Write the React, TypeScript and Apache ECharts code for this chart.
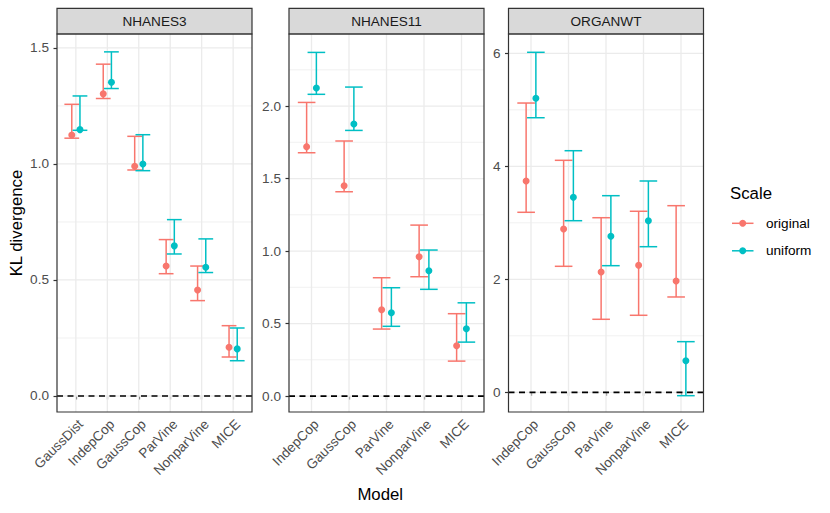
import React, { useEffect, useRef } from "react";
import * as echarts from "echarts";

// ---------- DATA ----------
const panelNames = ["NHANES3", "NHANES11", "ORGANWT"];
const scaleLabels = ["original", "uniform"];
const scaleColors = ["#F8766D", "#00BFC4"];

const nhanes3Models = ["GaussDist", "IndepCop", "GaussCop", "ParVine", "NonparVine", "MICE"];
const nhanes3OrigMean = [1.125, 1.302, 0.99, 0.56, 0.457, 0.21];
const nhanes3OrigLow = [1.111, 1.282, 0.974, 0.527, 0.411, 0.168];
const nhanes3OrigHigh = [1.257, 1.43, 1.119, 0.674, 0.56, 0.303];
const nhanes3UnifMean = [1.148, 1.352, 1.0, 0.647, 0.555, 0.203];
const nhanes3UnifLow = [1.145, 1.325, 0.971, 0.612, 0.532, 0.152];
const nhanes3UnifHigh = [1.293, 1.483, 1.126, 0.76, 0.677, 0.293];

const nhanes11Models = ["IndepCop", "GaussCop", "ParVine", "NonparVine", "MICE"];
const nhanes11OrigMean = [1.72, 1.45, 0.595, 0.961, 0.347];
const nhanes11OrigLow = [1.678, 1.409, 0.462, 0.823, 0.241];
const nhanes11OrigHigh = [2.025, 1.759, 0.816, 1.179, 0.568];
const nhanes11UnifMean = [2.124, 1.876, 0.575, 0.864, 0.464];
const nhanes11UnifLow = [2.081, 1.832, 0.481, 0.736, 0.372];
const nhanes11UnifHigh = [2.37, 2.131, 0.747, 1.007, 0.643];

const organwtModels = ["IndepCop", "GaussCop", "ParVine", "NonparVine", "MICE"];
const organwtOrigMean = [3.74, 2.89, 2.129, 2.248, 1.97];
const organwtOrigLow = [3.186, 2.23, 1.292, 1.363, 1.687];
const organwtOrigHigh = [5.12, 4.106, 3.09, 3.204, 3.303];
const organwtUnifMean = [5.204, 3.451, 2.761, 3.037, 0.559];
const organwtUnifLow = [4.86, 3.037, 2.241, 2.577, -0.06];
const organwtUnifHigh = [6.018, 4.276, 3.48, 3.74, 0.896];

const nhanes3YTicks = [0, 0.5, 1.0, 1.5];
const nhanes3YMinor = [0.25, 0.75, 1.25];
const nhanes11YTicks = [0, 0.5, 1.0, 1.5, 2.0];
const nhanes11YMinor = [0.25, 0.75, 1.25, 1.75, 2.25];
const organwtYTicks = [0, 2, 4, 6];
const organwtYMinor = [1, 3, 5];

const yRanges = [
  [-0.069, 1.56],
  [-0.11, 2.497],
  [-0.349, 6.342],
];
const yDecimals = [1, 1, 0];
const referenceLine = 0;

// ---------- LAYOUT / STYLE ----------
const FONT = "Liberation Sans, Arial, Helvetica, sans-serif";
const SMALL = 13.6;
const LARGE = 16.8;
const panelLefts = [57, 289, 508.5];
const panelTop = 34;
const panelWidth = 195;
const panelHeight = 378;
const stripTop = 8.3;
const dodge = 0.13;
const capHalf = 0.235;
const BORDER = "#333333";

const panels = [
  {
    models: nhanes3Models,
    orig: [nhanes3OrigMean, nhanes3OrigLow, nhanes3OrigHigh],
    unif: [nhanes3UnifMean, nhanes3UnifLow, nhanes3UnifHigh],
    major: nhanes3YTicks,
    minor: nhanes3YMinor,
  },
  {
    models: nhanes11Models,
    orig: [nhanes11OrigMean, nhanes11OrigLow, nhanes11OrigHigh],
    unif: [nhanes11UnifMean, nhanes11UnifLow, nhanes11UnifHigh],
    major: nhanes11YTicks,
    minor: nhanes11YMinor,
  },
  {
    models: organwtModels,
    orig: [organwtOrigMean, organwtOrigLow, organwtOrigHigh],
    unif: [organwtUnifMean, organwtUnifLow, organwtUnifHigh],
    major: organwtYTicks,
    minor: organwtYMinor,
  },
];

function buildOption() {
  const grid: any[] = [];
  const xAxis: any[] = [];
  const yAxis: any[] = [];
  const series: any[] = [];
  const graphic: any[] = [];

  panels.forEach((p, i) => {
    const n = p.models.length;
    const positions = p.models.map((_, k) => k + 1);
    grid.push({
      left: panelLefts[i],
      top: panelTop,
      width: panelWidth,
      height: panelHeight,
      containLabel: false,
    });
    xAxis.push({
      type: "value",
      gridIndex: i,
      min: 0.4,
      max: n + 0.6,
      axisLine: { show: false },
      splitLine: { show: false },
      axisTick: {
        show: true,
        customValues: positions,
        length: 3.5,
        lineStyle: { color: BORDER, width: 1.2 },
      },
      axisLabel: {
        customValues: positions,
        rotate: 45,
        margin: 5,
        align: "right",
        verticalAlign: "top",
        color: "#4D4D4D",
        fontSize: SMALL,
        fontFamily: FONT,
        formatter: (v: number) => p.models[Math.round(v) - 1] ?? "",
      },
    });
    yAxis.push({
      type: "value",
      gridIndex: i,
      min: yRanges[i][0],
      max: yRanges[i][1],
      axisLine: { show: false },
      splitLine: { show: false },
      axisTick: {
        show: true,
        customValues: p.major,
        length: 3.5,
        lineStyle: { color: BORDER, width: 1.2 },
      },
      axisLabel: {
        customValues: p.major,
        margin: 8,
        color: "#4D4D4D",
        fontSize: SMALL,
        fontFamily: FONT,
        formatter: (v: number) => v.toFixed(yDecimals[i]),
      },
    });

    const hLine = (width: number) => (params: any, api: any) => {
      const cs = params.coordSys;
      const y = api.coord([1, api.value(1)])[1];
      return {
        type: "line",
        shape: { x1: cs.x, y1: y, x2: cs.x + cs.width, y2: y },
        style: { stroke: "#EBEBEB", lineWidth: width },
      };
    };
    series.push({
      type: "custom",
      xAxisIndex: i,
      yAxisIndex: i,
      z: 1,
      silent: true,
      data: p.minor.map((v) => [1, v]),
      renderItem: hLine(0.7),
    });
    series.push({
      type: "custom",
      xAxisIndex: i,
      yAxisIndex: i,
      z: 1,
      silent: true,
      data: p.major.map((v) => [1, v]),
      renderItem: hLine(1.3),
    });
    series.push({
      type: "custom",
      xAxisIndex: i,
      yAxisIndex: i,
      z: 1,
      silent: true,
      data: positions.map((v) => [v, 0]),
      renderItem: (params: any, api: any) => {
        const cs = params.coordSys;
        const x = api.coord([api.value(0), 0])[0];
        return {
          type: "line",
          shape: { x1: x, y1: cs.y, x2: x, y2: cs.y + cs.height },
          style: { stroke: "#EBEBEB", lineWidth: 1.3 },
        };
      },
    });
    // dashed reference line
    series.push({
      type: "custom",
      xAxisIndex: i,
      yAxisIndex: i,
      z: 2,
      silent: true,
      data: [[1, referenceLine]],
      renderItem: (params: any, api: any) => {
        const cs = params.coordSys;
        const y = api.coord([1, api.value(1)])[1];
        return {
          type: "line",
          shape: { x1: cs.x, y1: y, x2: cs.x + cs.width, y2: y },
          style: { stroke: "#000000", lineWidth: 1.7, lineDash: [6, 4.5] },
        };
      },
    });

    [p.orig, p.unif].forEach((grp, g) => {
      const off = g === 0 ? -dodge : dodge;
      const color = scaleColors[g];
      series.push({
        type: "custom",
        name: scaleLabels[g] + " interval",
        xAxisIndex: i,
        yAxisIndex: i,
        z: 3,
        silent: true,
        encode: { x: 0, y: [1, 2] },
        data: grp[0].map((_, k) => [k + 1 + off, grp[1][k], grp[2][k]]),
        renderItem: (params: any, api: any) => {
          const x = api.value(0);
          const lo = api.value(1);
          const hi = api.value(2);
          const pLo = api.coord([x, lo]);
          const pHi = api.coord([x, hi]);
          const xl = api.coord([x - capHalf, hi])[0];
          const xr = api.coord([x + capHalf, hi])[0];
          const st = { stroke: color, lineWidth: 1.5 };
          return {
            type: "group",
            children: [
              { type: "line", shape: { x1: pLo[0], y1: pLo[1], x2: pHi[0], y2: pHi[1] }, style: st },
              { type: "line", shape: { x1: xl, y1: pHi[1], x2: xr, y2: pHi[1] }, style: st },
              { type: "line", shape: { x1: xl, y1: pLo[1], x2: xr, y2: pLo[1] }, style: st },
            ],
          };
        },
      });
      series.push({
        type: "scatter",
        name: scaleLabels[g],
        xAxisIndex: i,
        yAxisIndex: i,
        z: 4,
        symbol: "circle",
        symbolSize: 7,
        itemStyle: { color, opacity: 1 },
        data: grp[0].map((v, k) => [k + 1 + off, v]),
      });
    });

    // strip
    graphic.push({
      type: "rect",
      z: 100,
      shape: { x: panelLefts[i], y: stripTop, width: panelWidth, height: panelTop - stripTop },
      style: { fill: "#D9D9D9", stroke: BORDER, lineWidth: 1.2 },
    });
    graphic.push({
      type: "text",
      z: 101,
      x: panelLefts[i] + panelWidth / 2,
      y: (stripTop + panelTop) / 2 + 0.5,
      style: {
        text: panelNames[i],
        fill: "#1A1A1A",
        fontSize: SMALL,
        fontFamily: FONT,
        align: "center",
        verticalAlign: "middle",
      },
    });
    // panel border
    graphic.push({
      type: "rect",
      z: 100,
      shape: { x: panelLefts[i], y: panelTop, width: panelWidth, height: panelHeight },
      style: { fill: "none", stroke: BORDER, lineWidth: 1.2 },
    });
  });

  // axis titles
  graphic.push({
    type: "text",
    x: (panelLefts[0] + panelLefts[2] + panelWidth) / 2,
    y: 494,
    style: {
      text: "Model",
      fill: "#000000",
      fontSize: LARGE,
      fontFamily: FONT,
      align: "center",
      verticalAlign: "middle",
    },
  });
  graphic.push({
    type: "text",
    x: 16,
    y: panelTop + panelHeight / 2,
    rotation: Math.PI / 2,
    style: {
      text: "KL divergence",
      fill: "#000000",
      fontSize: LARGE,
      fontFamily: FONT,
      align: "center",
      verticalAlign: "middle",
    },
  });

  // legend
  graphic.push({
    type: "text",
    x: 730,
    y: 193,
    style: {
      text: "Scale",
      fill: "#000000",
      fontSize: LARGE,
      fontFamily: FONT,
      align: "left",
      verticalAlign: "middle",
    },
  });
  scaleLabels.forEach((lab, k) => {
    const y = 223.3 + 27.5 * k;
    graphic.push({
      type: "line",
      shape: { x1: 732, y1: y, x2: 753.5, y2: y },
      style: { stroke: scaleColors[k], lineWidth: 1.5 },
    });
    graphic.push({
      type: "circle",
      shape: { cx: 742.7, cy: y, r: 3.5 },
      style: { fill: scaleColors[k] },
    });
    graphic.push({
      type: "text",
      x: 766,
      y,
      style: {
        text: lab,
        fill: "#000000",
        fontSize: SMALL,
        fontFamily: FONT,
        align: "left",
        verticalAlign: "middle",
      },
    });
  });

  return {
    animation: false,
    backgroundColor: "#FFFFFF",
    textStyle: { fontFamily: FONT },
    grid,
    xAxis,
    yAxis,
    series,
    graphic,
  };
}

export default function App() {
  const ref = useRef<HTMLDivElement>(null);
  useEffect(() => {
    const chart = echarts.init(ref.current!, null, { renderer: "svg" });
    chart.setOption(buildOption() as any);
    return () => chart.dispose();
  }, []);
  return (
    <div
      ref={ref}
      style={{ position: "fixed", left: 0, top: 0, width: 830, height: 513 }}
    />
  );
}
